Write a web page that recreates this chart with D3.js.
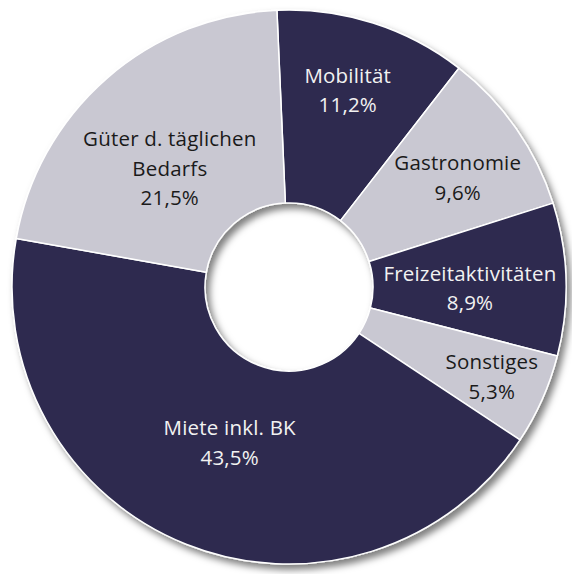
<!doctype html>
<html lang="de">
<head>
  <meta charset="utf-8">
  <title>Ausgaben</title>
  <style>
    html, body { margin: 0; padding: 0; background: #fff; }
    svg { display: block; }
    .lbl { font-family: 'Open Sans', sans-serif; font-size: 20.5px; letter-spacing: 0.2px; }
  </style>
</head>
<body>
  <div id="chart"></div>
  <script src="https://d3js.org/d3.v7.min.js"></script>
  <script>
    // Daten, im Uhrzeigersinn ab 12 Uhr
    const categories = ["Mobilität", "Gastronomie", "Freizeitaktivitäten", "Sonstiges", "Miete inkl. BK", "Güter d. täglichen Bedarfs"];
    const shares = [11.2, 9.6, 8.9, 5.3, 43.5, 21.5];
    const labelLines = [["Mobilität"], ["Gastronomie"], ["Freizeitaktivitäten"], ["Sonstiges"], ["Miete inkl. BK"], ["Güter d. täglichen", "Bedarfs"]];
    const darkSlices = ["Mobilität", "Freizeitaktivitäten", "Miete inkl. BK"];

    const W = 572, H = 574;
    const cx = 289, cy = 287;
    const outerR = 277, innerR = 84;
    const dark = "#2d2b4f", light = "#c9c8d2";

    // Label-Radius und Winkelkorrektur (Grad) je Segment
    const labelLayout = {
      "Mobilität": [205, -1],
      "Gastronomie": [201, 2],
      "Freizeitaktivitäten": [181, 2],
      "Sonstiges": [222, 0],
      "Miete inkl. BK": [167, -1],
      "Güter d. täglichen Bedarfs": [168, -4]
    };

    const data = categories.map((c, i) => ({
      name: c, value: shares[i], lines: labelLines[i], dark: darkSlices.includes(c)
    }));

    const svg = d3.select("#chart").append("svg")
      .attr("width", W).attr("height", H);

    const f = svg.append("defs").append("filter").attr("id", "shadow")
      .attr("x", "-20%").attr("y", "-20%").attr("width", "140%").attr("height", "140%");
    f.append("feDropShadow")
      .attr("dx", 4).attr("dy", 5).attr("stdDeviation", 3.5)
      .attr("flood-color", "#000").attr("flood-opacity", 0.5);

    const start = -2.5 * Math.PI / 180;
    const pie = d3.pie().value(d => d.value).sort(null)
      .startAngle(start).endAngle(start + 2 * Math.PI);
    const arcs = pie(data);

    const arc = d3.arc().innerRadius(innerR).outerRadius(outerR);

    const g = svg.append("g").attr("transform", `translate(${cx},${cy})`);

    g.append("g").attr("filter", "url(#shadow)")
      .selectAll("path")
      .data(arcs)
      .join("path")
      .attr("d", arc)
      .attr("fill", d => d.data.dark ? dark : light)
      .attr("stroke", "#fff")
      .attr("stroke-width", 1.5)
      .attr("stroke-linejoin", "round");

    const lh = 29.5;
    const labels = g.selectAll("text.lbl")
      .data(arcs)
      .join("text")
      .attr("class", "lbl")
      .attr("text-anchor", "middle")
      .attr("fill", d => d.data.dark ? "#f2f2f2" : "#1a1a1a")
      .attr("transform", d => {
        const [r, nudge] = labelLayout[d.data.name];
        const a = (d.startAngle + d.endAngle) / 2 + nudge * Math.PI / 180;
        return `translate(${r * Math.sin(a)},${-r * Math.cos(a)})`;
      });

    labels.each(function(d) {
      const lines = d.data.lines.concat([d3.format(".1f")(d.data.value).replace(".", ",") + "%"]);
      const n = lines.length;
      d3.select(this).selectAll("tspan")
        .data(lines)
        .join("tspan")
        .attr("x", 0)
        .attr("y", (t, i) => (i - (n - 1) / 2) * lh + 7)
        .text(t => t);
    });
  </script>
</body>
</html>
